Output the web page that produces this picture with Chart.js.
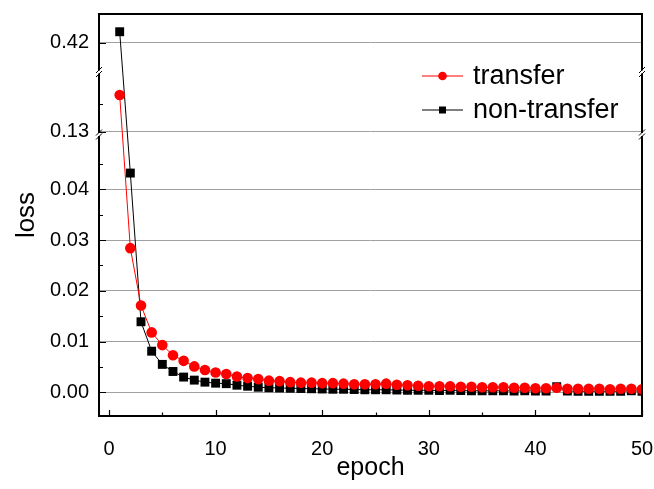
<!DOCTYPE html>
<html>
<head>
<meta charset="utf-8">
<script src="https://cdn.jsdelivr.net/npm/chart.js@4/dist/chart.umd.min.js"></script>
<style>
html,body{margin:0;padding:0;background:#fff;}
#wrap{width:654px;height:489px;position:relative;}
</style>
</head>
<body>
<div id="wrap"><canvas id="c" width="654" height="489"></canvas></div>
<script>
// ---- data ----
const epochs = [1,2,3,4,5,6,7,8,9,10,11,12,13,14,15,16,17,18,19,20,21,22,23,24,25,26,27,28,29,30,31,32,33,34,35,36,37,38,39,40,41,42,43,44,45,46,47,48,49,50];
const transfer = [0.197,0.0284,0.0171,0.0118,0.0093,0.0073,0.0062,0.0051,0.0044,0.0039,0.0036,0.0031,0.0028,0.0026,0.0023,0.0022,0.0020,
  0.0019,0.0019,0.0018,0.0018,0.0017,0.0016,0.0016,0.0016,0.0017,0.0015,0.0014,0.0013,0.0012,0.0012,0.0012,0.0011,0.0011,0.0010,0.0010,0.0010,0.0009,0.0009,0.0008,0.0008,0.0009,0.0007,0.0007,0.0007,0.0007,0.0006,0.0007,0.0007,0.0006];
const nonTransfer = [0.44,0.0432,0.0139,0.0081,0.0055,0.0041,0.0030,0.0024,0.0020,0.0018,0.0017,0.0014,0.0012,0.0010,0.0009,0.00085,0.0008,
  0.00075,0.0007,0.00065,0.0006,0.0006,0.00055,0.0005,0.0005,0.0005,0.00045,0.0004,0.0004,0.0004,0.00035,0.0004,0.00035,0.0003,0.0003,0.0003,0.0003,0.00025,0.0003,0.00025,0.00025,0.0011,0.00025,0.0002,0.0002,0.0002,0.0002,0.0002,0.0003,0.0002];
const seriesNames = ['transfer','non-transfer'];
const yTickValues = [0, 0.01, 0.02, 0.03, 0.04, 0.13, 0.42];
const yTickLabels = ['0.00','0.01','0.02','0.03','0.04','0.13','0.42'];
const yMinorValues = [0.005, 0.015, 0.025, 0.035, 0.045, 0.18];
const xTickValues = [0, 10, 20, 30, 40, 50];
const xMinorValues = [5, 15, 25, 35, 45];

// ---- broken-axis transform (value -> display units) ----
function toDisplay(v){
  if (v < 0.09) return v * 5075;
  if (v < 0.3) return 260.6 + (v - 0.13) * 548;
  return 349.6 + (v - 0.42) * 548;
}
const breakDisplay = [257.8, 320.3];

const FONT = '"Liberation Sans", Arial, sans-serif';

const decor = {
  id: 'decor',
  afterDraw(chart){
    const ctx = chart.ctx;
    const a = chart.chartArea;
    const xs = chart.scales.x, ys = chart.scales.y;
    ctx.save();
    ctx.strokeStyle = '#000';
    // ticks (inward)
    ctx.lineWidth = 1.2;
    ctx.beginPath();
    yTickValues.forEach(v => { const y = Math.round(ys.getPixelForValue(toDisplay(v))) + 0.5; ctx.moveTo(a.left, y); ctx.lineTo(a.left + 7, y); });
    yMinorValues.forEach(v => { const y = Math.round(ys.getPixelForValue(toDisplay(v))) + 0.5; ctx.moveTo(a.left, y); ctx.lineTo(a.left + 4, y); });
    xTickValues.forEach(v => { const x = Math.round(xs.getPixelForValue(v)) + 0.5; ctx.moveTo(x, a.bottom); ctx.lineTo(x, a.bottom - 6); });
    xMinorValues.forEach(v => { const x = Math.round(xs.getPixelForValue(v)) + 0.5; ctx.moveTo(x, a.bottom); ctx.lineTo(x, a.bottom - 3.5); });
    ctx.stroke();
    // frame
    ctx.lineWidth = 2;
    ctx.strokeRect(a.left, a.top, a.right - a.left, a.bottom - a.top);
    // breaks
    breakDisplay.forEach(d => {
      const y = ys.getPixelForValue(d);
      [a.left, a.right].forEach(x => {
        ctx.fillStyle = '#fff';
        ctx.fillRect(x - 2, y - 1.5, 4, 3);
        ctx.lineWidth = 1;
        ctx.beginPath();
        ctx.moveTo(x - 3, y + 1); ctx.lineTo(x + 3, y - 5);
        ctx.moveTo(x - 3, y + 5); ctx.lineTo(x + 3, y - 1);
        ctx.stroke();
      });
    });
    // legend
    const lx = a.left + 323, tx = a.left + 374;
    const rows = [a.top + 62, a.top + 96];
    chart.data.datasets.forEach((ds, i) => {
      const y = rows[i];
      ctx.strokeStyle = ds.borderColor; ctx.lineWidth = 1;
      ctx.beginPath(); ctx.moveTo(lx, y); ctx.lineTo(lx + 41, y); ctx.stroke();
      ctx.fillStyle = ds.backgroundColor;
      if (ds.pointStyle === 'circle') { ctx.beginPath(); ctx.arc(lx + 20.5, y, 4.3, 0, Math.PI * 2); ctx.fill(); }
      else { ctx.fillRect(lx + 20.5 - 3.5, y - 3.5, 7, 7); }
      ctx.fillStyle = '#000';
      ctx.font = '27px ' + FONT;
      ctx.textBaseline = 'middle';
      ctx.textAlign = 'left';
      ctx.fillText(ds.label, tx, y + 1);
    });
    ctx.restore();
  }
};

new Chart(document.getElementById('c'), {
  type: 'line',
  data: {
    datasets: [
      { label: seriesNames[0], data: transfer.map((v, i) => ({x: epochs[i], y: toDisplay(v)})),
        borderColor: '#ff0000', backgroundColor: '#ff0000', borderWidth: 1, pointStyle: 'circle',
        pointRadius: 5.3, pointBorderWidth: 0, tension: 0, clip: 0 },
      { label: seriesNames[1], data: nonTransfer.map((v, i) => ({x: epochs[i], y: toDisplay(v)})),
        borderColor: '#000000', backgroundColor: '#000000', borderWidth: 1, pointStyle: 'rect',
        pointRadius: 6.3, pointBorderWidth: 0, tension: 0, clip: 0 }
    ]
  },
  options: {
    responsive: false,
    animation: false,
    layout: { padding: { top: 14, right: 12, left: 0, bottom: 0 } },
    plugins: { legend: { display: false }, tooltip: { enabled: false } },
    scales: {
      x: {
        type: 'linear', min: -0.94, max: 50,
        afterBuildTicks: s => { s.ticks = xTickValues.map(v => ({value: v})); },
        afterFit: s => { s.height = 73; s.paddingLeft = 0; s.paddingRight = 0; },
        grid: { display: false, drawTicks: false },
        border: { display: false },
        ticks: { color: '#000', font: { size: 20, family: FONT }, padding: 21, maxRotation: 0, autoSkip: false },
        title: { display: true, text: 'epoch', color: '#000', font: { size: 25, family: FONT }, padding: { top: 0, bottom: 6 } }
      },
      y: {
        type: 'linear', min: -23.7, max: 378.3,
        afterBuildTicks: s => { s.ticks = yTickValues.map(v => ({value: toDisplay(v)})); },
        afterFit: s => { s.width = 99; s.paddingTop = 0; s.paddingBottom = 0; },
        grid: { color: '#a0a0a0', lineWidth: 1, drawTicks: false },
        border: { display: false },
        ticks: { color: '#000', font: { size: 20, family: FONT }, padding: 10, autoSkip: false,
                 callback: (val, i) => yTickLabels[i] },
        title: { display: true, text: 'loss', color: '#000', font: { size: 26, family: FONT }, padding: { top: 11, bottom: 0 } }
      }
    }
  },
  plugins: [decor]
});
</script>
</body>
</html>
